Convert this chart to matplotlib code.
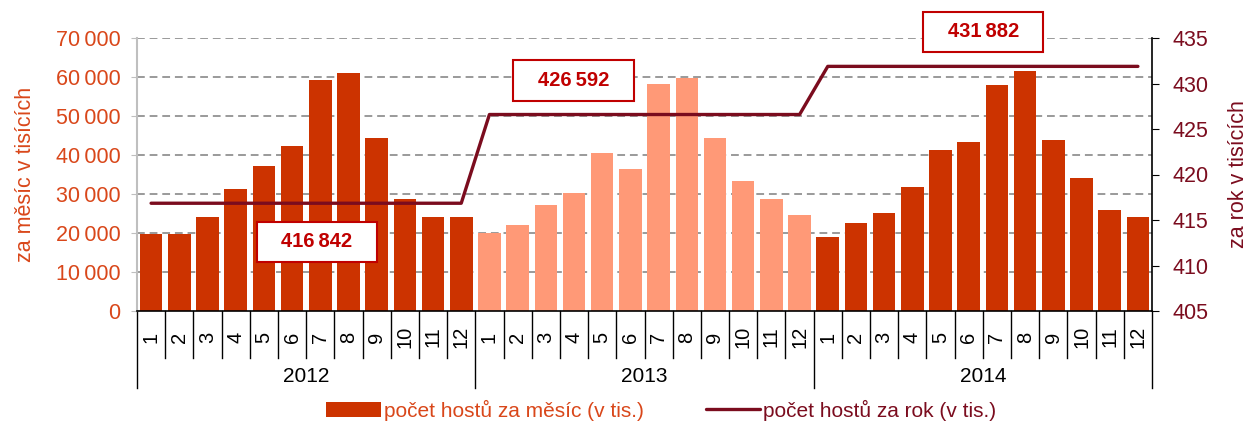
import matplotlib
matplotlib.use("Agg")
import matplotlib.pyplot as plt
from matplotlib.patches import Rectangle
from matplotlib.transforms import blended_transform_factory
import numpy as np

plt.rcParams['font.family'] = ['Liberation Sans', 'DejaVu Sans']

years = ["2012", "2013", "2014"]
months = [str(m) for m in range(1, 13)]
monthly = [19700, 19700, 24100, 31300, 37100, 42200, 59200, 61100, 44300, 28700, 24100, 24100,
           20000, 22000, 27200, 30300, 40500, 36500, 58100, 59700, 44300, 33400, 28700, 24600,
           19000, 22600, 25100, 31900, 41200, 43300, 58000, 61600, 43800, 34100, 25800, 24200]
yearly = [416.842, 426.592, 431.882]
yearly_labels = ["416 842", "426 592", "431 882"]

C_DARK = "#CC3300"; C_LIGHT = "#FF9977"; C_LINE = "#7B0C1E"; C_BOX = "#C00000"
C_LEFT = "#D9471A"
FS = 15

n = len(monthly)
x = np.arange(n)
colors = [C_LIGHT if years[i // 12] == "2013" else C_DARK for i in range(n)]
line_vals = np.repeat(yearly, 12)

fig = plt.figure(figsize=(12.48, 4.21), dpi=100)
ax = fig.add_axes([137/1248, 1-311/421, (1152-137)/1248, 273/421])
ax2 = ax.twinx()
ax.set_zorder(1); ax2.set_zorder(2); ax2.patch.set_visible(False)

for yv in range(10000, 70001, 10000):
    ax.axhline(yv, color="#9a9a9a", lw=1.4, ls=(0, (4, 2.5)), zorder=0)
bars = ax.bar(x, monthly, 0.8, color=colors, zorder=2)
ax.set_xlim(-0.5, n - 0.5)
ax.set_ylim(0, 70000)
ax.set_yticks(range(0, 70001, 10000))
ax.set_yticklabels([f"{v:,}".replace(",", "\u2009") for v in range(0, 70001, 10000)],
                   color=C_LEFT, fontsize=FS + 0.5)
ax.tick_params(axis="y", length=4, color="#bfbfbf", pad=8)
ax.spines["left"].set_color("#bfbfbf"); ax.spines["left"].set_linewidth(1.5)
ax.spines["top"].set_visible(False); ax.spines["right"].set_visible(False)
ax.spines["bottom"].set_color("black"); ax.spines["bottom"].set_linewidth(1.2)
ax.set_ylabel("za měsíc v tisících", color=C_LEFT, fontsize=FS + 0.5, labelpad=14)
ax.set_xticks([])

# multi-level category axis
tr = blended_transform_factory(ax.transData, ax.transAxes)
px = 1 / 273
for b in range(n + 1):
    long = b % 12 == 0
    ax.plot([b - 0.5, b - 0.5], [0, -(77 if long else 47) * px], color="black", lw=1,
            transform=tr, clip_on=False)
for i in range(n):
    ax.text(i, -26 * px, months[i % 12], rotation=90, ha="center", va="center",
            fontsize=FS - 0.5, transform=tr)
for k, yr in enumerate(years):
    ax.text(12 * k + 5.5, -66 * px, yr, ha="center", va="center", fontsize=FS, transform=tr)

line, = ax2.plot(x, line_vals, color=C_LINE, lw=2.4, zorder=3, solid_capstyle="round")
ax2.set_ylim(405, 435)
ax2.set_yticks(range(405, 436, 5))
ax2.tick_params(axis="y", colors="black", labelcolor=C_LINE, labelsize=FS + 0.5,
                length=5, pad=10)
ax2.spines["right"].set_color("black"); ax2.spines["right"].set_linewidth(1.2)
ax2.spines["left"].set_visible(False); ax2.spines["top"].set_visible(False)
ax2.spines["bottom"].set_visible(False)
ax2.set_ylabel("za rok v tisících", color=C_LINE, fontsize=FS + 0.5, rotation=90, labelpad=14)

# value boxes
box_pos = [(5.88, 412.6), (14.98, 430.33), (29.52, 435.66)]
bw, bh = 4.26, 4.4
for (cx, cy), lab in zip(box_pos, yearly_labels):
    ax2.add_patch(Rectangle((cx - bw/2, cy - bh/2), bw, bh, facecolor="white",
                            edgecolor=C_BOX, lw=1.5, zorder=5, clip_on=False))
    ax2.text(cx, cy, lab.replace(" ", "\u2009"), ha="center", va="center", fontsize=FS - 0.5,
             fontweight="bold", color=C_BOX, zorder=6, clip_on=False)

fig.legend([bars, line], ["počet hostů za měsíc (v tis.)", "počet hostů za rok (v tis.)"],
           loc="center", bbox_to_anchor=(0.53, 0.026), ncol=2, frameon=False,
           fontsize=FS, handlelength=2.6, handleheight=0.7, handletextpad=0.15,
           columnspacing=3, labelcolor=[C_LEFT, C_LINE])

fig.savefig("out.png", dpi=100)
